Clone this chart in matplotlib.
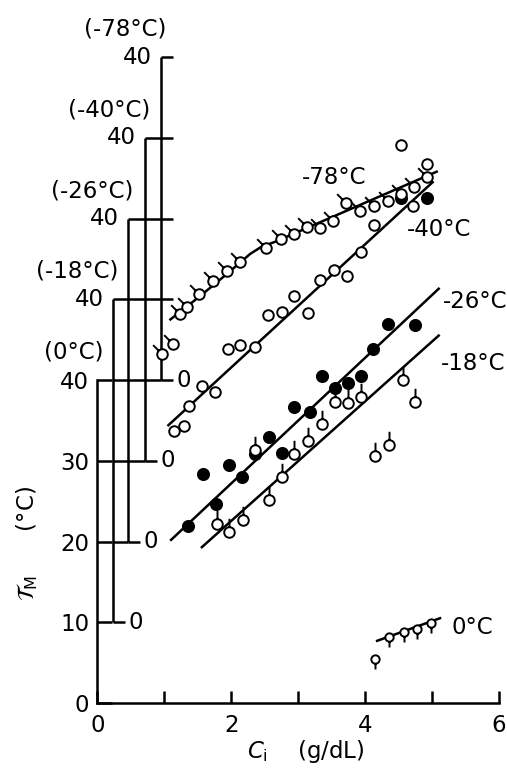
import numpy as np
import matplotlib
matplotlib.use("Agg")
import matplotlib.pyplot as plt
from matplotlib.path import Path

# ---- data: C_i (g/dL) and T_M (deg C), each T_M read on its own offset scale ----
ci_0 = [4.15, 4.36, 4.58, 4.77, 4.99]
tm_0 = [5.5, 8.2, 8.8, 9.2, 9.9]

ci_m18 = [1.79, 1.96, 2.17, 2.35, 2.57, 2.76, 2.94, 3.15, 3.35, 3.55, 3.74,
          3.94, 4.15, 4.36, 4.56, 4.75]
tm_m18 = [12.2, 11.2, 12.7, 21.3, 15.1, 18.0, 20.8, 22.4, 24.6, 27.3, 27.2,
          27.9, 20.6, 22.0, 30.0, 27.3]

ci_m26 = [1.36, 1.58, 1.77, 1.97, 2.16, 2.36, 2.56, 2.76, 2.94, 3.18, 3.36,
          3.55, 3.74, 3.94, 4.12, 4.34, 4.74]
tm_m26 = [1.9, 8.4, 4.6, 9.5, 8.0, 10.8, 12.9, 10.9, 16.7, 16.0, 20.5,
          19.0, 19.6, 20.5, 23.8, 26.9, 26.8]

ci_m40 = [1.15, 1.29, 1.37, 1.56, 1.75, 1.95, 2.13, 2.35, 2.55, 2.76, 2.94,
          3.14, 3.33, 3.53, 3.73, 3.94, 4.13, 4.72, 4.53, 4.92]
tm_m40 = [3.7, 4.3, 6.8, 9.2, 8.5, 13.8, 14.3, 14.1, 18.0, 18.4, 20.4,
          18.3, 22.4, 23.6, 22.9, 25.9, 29.2, 31.5, 39.1, 36.7]
ci_m40_solid = [4.53, 4.92]
tm_m40_solid = [32.6, 32.6]

ci_m78 = [0.96, 1.13, 1.23, 1.34, 1.52, 1.72, 1.93, 2.13, 2.52, 2.74, 2.93,
          3.13, 3.32, 3.52, 3.71, 3.93, 4.13, 4.34, 4.53, 4.73, 4.92]
tm_m78 = [3.2, 4.5, 8.2, 9.0, 10.6, 12.2, 13.5, 14.6, 16.3, 17.5, 18.1,
          19.0, 18.8, 19.7, 21.9, 20.9, 21.5, 22.2, 23.0, 23.9, 25.2]

# fitted curves (knots along each drawn line)
fit_ci_0 = [4.18, 5.12]
fit_tm_0 = [7.7, 10.5]
fit_ci_m18 = [1.56, 5.10]
fit_tm_m18 = [9.3, 35.5]
fit_ci_m26 = [1.10, 5.10]
fit_tm_m26 = [0.2, 31.3]
fit_ci_m40 = [1.06, 5.01]
fit_tm_m40 = [4.4, 34.5]
fit_ci_m78 = [1.09, 1.52, 1.93, 2.28, 2.45, 2.65, 5.07]
fit_tm_m78 = [7.5, 10.3, 13.1, 15.6, 16.5, 17.1, 25.8]

# curve names and the vertical shift of each ordinate (deg C on the main scale)
temps = ["0°C", "-18°C", "-26°C", "-40°C", "-78°C"]
shifts = [0, 10, 20, 30, 40]

# ---- figure ----
FS = 16.5
LW = 1.8
plt.rcParams["font.family"] = ["DejaVu Sans"]
plt.rcParams["mathtext.fontset"] = "dejavusans"

fig = plt.figure(figsize=(5.07, 7.76), dpi=100)
ax = fig.add_axes([0, 0, 1, 1])
ax.set_xlim(-1.457, 6.121)
ax.set_ylim(-9.04, 87.06)
ax.patch.set_visible(False)

for s in ("top", "right"):
    ax.spines[s].set_visible(False)
for s in ("left", "bottom"):
    ax.spines[s].set_position(("data", 0))
    ax.spines[s].set_linewidth(LW)
ax.spines["left"].set_bounds(0, 40)
ax.spines["bottom"].set_bounds(0, 6)

ax.set_xticks(range(7))
ax.set_xticklabels(["0", "", "2", "", "4", "", "6"])
ax.set_yticks([0, 10, 20, 30, 40])
ax.tick_params(axis="y", direction="in", length=11.1, width=LW, pad=6.0,
               labelsize=FS)
ax.tick_params(axis="x", direction="in", length=8.5, width=LW, pad=8,
               labelsize=FS)

# secondary ordinates, stepped to the right of the main one
axis_x = [0.0, 0.23, 0.46, 0.71, 0.95]
short_tick = 0.18
for i in range(1, 5):
    xa, base = axis_x[i], shifts[i]
    ax.plot([xa, xa], [base, base + 40], color="k", lw=LW,
            solid_capstyle="butt")
    for lev in range(base, base + 41, 10):
        if i + 1 < 5 and shifts[i + 1] <= lev:
            end = axis_x[i + 1]
        else:
            end = xa + short_tick
        ax.plot([xa, end], [lev, lev], color="k", lw=LW,
                solid_capstyle="butt")
    ax.annotate("0", xy=(xa + short_tick, base), xytext=(2.5, 0),
                textcoords="offset points", ha="left", va="center",
                fontsize=FS)
    ax.annotate("40", xy=(xa, base + 40), xytext=(-6.5, 0),
                textcoords="offset points", ha="right", va="center",
                fontsize=FS)

for i in range(5):
    ax.annotate(f"({temps[i]})", xy=(axis_x[i], shifts[i] + 40),
                xytext=(4, 20), textcoords="offset points", ha="right",
                va="center", fontsize=FS)


def stem_marker(dx, dy, length):
    """Circle of unit radius with a short stroke leaving the rim."""
    d = np.array([dx, dy], float) / np.hypot(dx, dy)
    stroke = Path([d, d * (1 + length)], [Path.MOVETO, Path.LINETO])
    path = Path.make_compound_path(Path.unit_circle(), stroke)
    scale = max(1.0, float(np.max(np.abs(path.vertices))))
    return path, scale


def draw_points(xs, ys, shift, radius, face, stem=None):
    ys = np.asarray(ys) + shift
    if stem is None:
        ax.plot(xs, ys, ls="none", marker="o", ms=2 * radius, mfc=face,
                mec="k", mew=1.4, zorder=4)
    else:
        path, scale = stem_marker(*stem)
        ax.plot(xs, ys, ls="none", marker=path, ms=2 * radius * scale,
                mfc=face, mec="k", mew=1.4, zorder=4)


def draw_fit(xs, ys, shift):
    ax.plot(xs, np.asarray(ys) + shift, color="k", lw=LW, zorder=3)


draw_fit(fit_ci_0, fit_tm_0, shifts[0])
draw_fit(fit_ci_m18, fit_tm_m18, shifts[1])
draw_fit(fit_ci_m26, fit_tm_m26, shifts[2])
draw_fit(fit_ci_m40, fit_tm_m40, shifts[3])
draw_fit(fit_ci_m78, fit_tm_m78, shifts[4])

draw_points(ci_0, tm_0, shifts[0], 3.0, "white", stem=(0, -1, 1.4))
draw_points(ci_m26, tm_m26, shifts[2], 4.0, "black")
draw_points(ci_m18, tm_m18, shifts[1], 3.8, "white", stem=(0, 1, 1.6))
draw_points(ci_m40_solid, tm_m40_solid, shifts[3], 4.0, "black")
draw_points(ci_m40, tm_m40, shifts[3], 3.8, "white")
draw_points(ci_m78, tm_m78, shifts[4], 3.8, "white", stem=(-1, 1, 1.5))

# curve names next to each fit
name_pos = [(5.60, 9.4), (5.61, 42.1), (5.64, 49.7), (5.10, 58.6), (3.54, 65.1)]
for name, (tx, ty) in zip(temps, name_pos):
    ax.text(tx, ty, name, ha="center", va="center", fontsize=FS)

ax.set_xlabel(r"$C_\mathrm{i}$    (g/dL)", fontsize=FS)
ax.xaxis.set_label_coords(3.12, -6.0, transform=ax.transData)
ax.set_ylabel(r"$\mathcal{T}_\mathrm{M}$      (°C)", fontsize=FS)
ax.yaxis.set_label_coords(-1.054, 19.8, transform=ax.transData)
ax.yaxis.label.set_va("center")
ax.xaxis.label.set_va("center")

fig.savefig("out.png", dpi=100)
